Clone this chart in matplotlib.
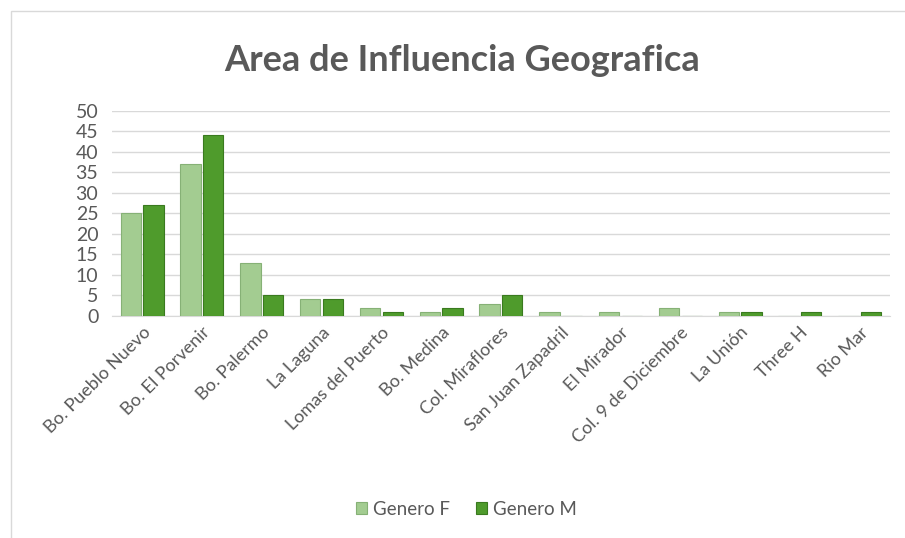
import matplotlib
matplotlib.use("Agg")
import matplotlib.pyplot as plt
import numpy as np

categories = ["Bo. Pueblo Nuevo", "Bo. El Porvenir", "Bo. Palermo", "La Laguna",
              "Lomas del Puerto", "Bo. Medina", "Col. Miraflores", "San Juan Zapadril",
              "El Mirador", "Col. 9 de Diciembre", "La Unión", "Three H", "Rio Mar"]
genero_f = [25, 37, 13, 4, 2, 1, 3, 1, 1, 2, 1, 0, 0]
genero_m = [27, 44, 5, 4, 1, 2, 5, 0, 0, 0, 1, 1, 1]
yticks = list(range(0, 51, 5))

plt.rcParams['font.family'] = ['Lato', 'DejaVu Sans']

fig = plt.figure(figsize=(9.05, 5.38), dpi=100)
ax = fig.add_axes([0.124, 0.413, 0.859, 0.381])

x = np.arange(len(categories))
w = 0.34
cF = "#a3cc91"
cM = "#4f9b2c"
ax.bar(x - w/2 - 0.02, genero_f, w, color=cF, edgecolor="#86b176", linewidth=0.8, label="Genero F", zorder=3)
ax.bar(x + w/2 + 0.02, genero_m, w, color=cM, edgecolor="#3a7a1f", linewidth=0.8, label="Genero M", zorder=3)

ax.set_xlim(-0.5, len(categories) - 0.5)
ax.set_ylim(0, 50)
ax.set_yticks(yticks)
ax.set_yticklabels([str(t) for t in yticks], fontsize=14, color="#595959")
ax.set_xticks(x)
ax.set_xticklabels(categories, rotation=45, ha="right", rotation_mode="anchor",
                   fontsize=13, color="#595959")
ax.tick_params(axis="y", length=0, pad=10)
ax.tick_params(axis="x", length=0, pad=6)
ax.grid(axis="y", color="#d9d9d9", linewidth=1, zorder=0)
for s in ["top", "right", "left"]:
    ax.spines[s].set_visible(False)
ax.spines["bottom"].set_color("#d9d9d9")

fig.text(0.511, 0.888, "Area de Influencia Geografica", ha="center", va="center",
         fontsize=26, color="#595959", fontweight="bold")

fig.legend(loc="center", bbox_to_anchor=(0.515, 0.053), ncol=2, frameon=False,
           fontsize=13.5, labelcolor="#595959", handlelength=0.6, handleheight=0.6,
           handletextpad=0.3, columnspacing=1.4)

border = plt.Rectangle((0.012, -0.01), 0.99, 0.99, transform=fig.transFigure,
                       fill=False, edgecolor="#d9d9d9", linewidth=1)
fig.add_artist(border)

fig.savefig("out.png", dpi=100)
